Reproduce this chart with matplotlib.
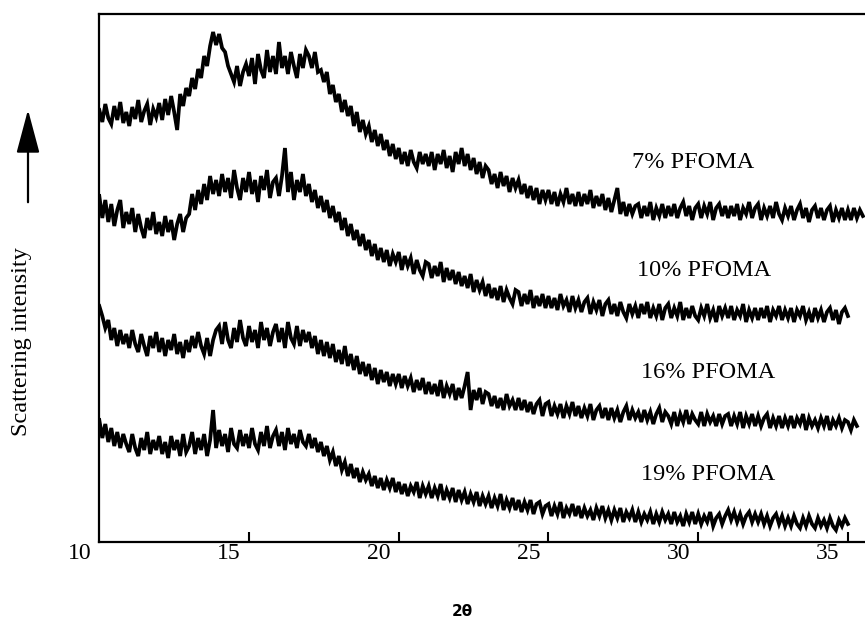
import numpy as np
import matplotlib.pyplot as plt
from matplotlib.patches import FancyArrowPatch
from matplotlib.transforms import ScaledTranslation

# 2-theta grid, 0.1 degree steps
step = 0.1

# scattering intensity (arbitrary units, curves stacked)
pfoma_7 = [
    432, 420, 438, 424, 418, 436, 422, 440, 419, 430,
    416, 435, 423, 442, 420, 431, 438, 417, 433, 425,
    439, 422, 443, 427, 446, 430, 412, 448, 436, 454,
    446, 464, 453, 473, 464, 486, 476, 496, 510, 497,
    508, 494, 490, 476, 468, 460, 476, 456, 470, 478,
    466, 484, 458, 488, 472, 464, 492, 470, 486, 468,
    500, 474, 486, 468, 490, 476, 464, 488, 474, 492,
    486, 474, 490, 470, 472, 460, 470, 448, 457, 440,
    448, 430, 442, 426, 436, 416, 430, 410, 422, 408,
    416, 400, 412, 396, 408, 392, 402, 386, 398, 383,
    394, 378, 390, 376, 392, 380, 374, 390, 378, 388,
    376, 390, 372, 388, 378, 392, 374, 386, 370, 390,
    378, 394, 376, 388, 372, 384, 368, 380, 364, 376,
    372, 358, 368, 354, 370, 356, 366, 350, 364, 354,
    362, 348, 358, 344, 356, 342, 354, 338, 352, 342,
    352, 338, 350, 336, 348, 340, 354, 338, 348, 336,
    350, 336, 348, 338, 352, 334, 346, 336, 348, 332,
    344, 330, 342, 354, 328, 340, 326, 338, 328, 336,
    338, 324, 336, 326, 340, 322, 334, 326, 338, 324,
    336, 326, 338, 324, 334, 340, 326, 336, 322, 334,
    338, 324, 336, 328, 340, 322, 334, 338, 326, 336,
    324, 336, 326, 338, 322, 334, 328, 340, 324, 334,
    338, 322, 334, 326, 336, 324, 340, 328, 322, 334,
    326, 336, 322, 332, 338, 324, 334, 320, 332, 336,
    324, 334, 322, 332, 336, 320, 332, 324, 334, 322,
    332, 322, 334, 324, 332, 326,
]

pfoma_10 = [
    346, 324, 342, 320, 338, 316, 332, 342, 314, 330,
    318, 334, 310, 328, 314, 304, 324, 312, 330, 308,
    320, 306, 326, 310, 322, 302, 318, 328, 310, 324,
    328, 348, 332, 352, 338, 358, 342, 366, 348, 362,
    346, 368, 350, 364, 344, 372, 354, 342, 364, 350,
    370, 348, 362, 340, 366, 352, 372, 344, 360, 364,
    346, 366, 394, 350, 370, 342, 362, 350, 368, 346,
    358, 340, 352, 334, 346, 330, 342, 324, 336, 320,
    330, 312, 324, 306, 318, 302, 312, 296, 308, 292,
    302, 286, 298, 282, 294, 280, 292, 276, 288, 280,
    290, 272, 286, 276, 284, 268, 282, 272, 266, 280,
    278, 264, 276, 266, 280, 260, 274, 262, 272, 258,
    270, 256, 266, 254, 268, 250, 262, 252, 260, 246,
    258, 244, 254, 242, 256, 240, 252, 244, 238, 252,
    250, 236, 248, 238, 252, 234, 246, 236, 248, 234,
    246, 234, 244, 232, 248, 236, 242, 230, 246, 234,
    242, 230, 240, 244, 228, 240, 232, 242, 226, 238,
    242, 228, 238, 226, 240, 230, 224, 238, 228, 236,
    224, 238, 228, 240, 224, 234, 226, 238, 222, 234,
    238, 224, 234, 226, 240, 222, 234, 224, 236, 226,
    222, 234, 226, 238, 224, 232, 220, 236, 226, 234,
    224, 236, 222, 232, 226, 238, 220, 232, 224, 234,
    222, 234, 224, 236, 220, 232, 226, 236, 222, 232,
    224, 234, 220, 232, 226, 236, 222, 230, 220, 234,
    224, 232, 220, 230, 234, 222, 232, 218, 230, 234,
    226,
]

pfoma_16 = [
    236, 226, 214, 222, 202, 214, 196, 212, 198, 208,
    194, 212, 198, 190, 208, 196, 186, 206, 194, 210,
    190, 204, 186, 202, 192, 208, 188, 200, 184, 202,
    190, 206, 194, 210, 196, 188, 204, 186, 202, 212,
    216, 198, 220, 202, 194, 214, 200, 222, 204, 196,
    216, 200, 212, 194, 220, 202, 214, 196, 210, 218,
    200, 214, 194, 220, 204, 198, 216, 196, 212, 200,
    210, 194, 206, 188, 202, 186, 200, 184, 198, 180,
    192, 178, 196, 176, 188, 172, 186, 168, 180, 166,
    178, 162, 174, 158, 172, 160, 170, 156, 168, 158,
    168, 154, 166, 156, 164, 150, 162, 152, 164, 148,
    160, 148, 158, 146, 162, 144, 156, 148, 158, 142,
    154, 144, 156, 170, 132, 152, 142, 154, 138, 150,
    148, 136, 146, 134, 144, 132, 148, 136, 142, 132,
    144, 132, 142, 130, 140, 128, 138, 142, 126, 138,
    140, 126, 136, 128, 138, 124, 136, 128, 140, 126,
    136, 124, 134, 126, 138, 122, 132, 136, 124, 134,
    122, 134, 124, 132, 120, 130, 136, 122, 132, 124,
    130, 120, 132, 122, 130, 118, 128, 134, 120, 130,
    126, 118, 130, 116, 128, 120, 132, 118, 128, 122,
    118, 130, 116, 128, 120, 126, 116, 128, 118, 126,
    128, 116, 126, 118, 130, 114, 126, 118, 128, 116,
    126, 116, 124, 128, 114, 124, 116, 126, 114, 124,
    116, 126, 114, 124, 118, 128, 112, 124, 116, 122,
    114, 124, 116, 126, 112, 122, 116, 124, 114, 122,
    120, 112, 122, 116,
]

pfoma_19 = [
    122, 104, 118, 100, 114, 96, 110, 94, 108, 98,
    90, 108, 94, 86, 104, 92, 110, 88, 102, 92,
    106, 88, 100, 84, 106, 92, 102, 86, 108, 90,
    96, 110, 88, 104, 92, 108, 86, 102, 132, 94,
    112, 96, 108, 90, 114, 98, 94, 112, 96, 108,
    94, 114, 98, 92, 110, 96, 116, 94, 106, 112,
    96, 110, 92, 114, 98, 108, 94, 112, 100, 96,
    108, 94, 104, 90, 100, 86, 96, 82, 90, 76,
    86, 72, 80, 66, 78, 64, 74, 60, 70, 62,
    68, 56, 66, 54, 64, 52, 62, 54, 64, 50,
    60, 48, 58, 46, 56, 50, 60, 44, 56, 48,
    56, 44, 54, 46, 58, 42, 52, 44, 54, 40,
    52, 42, 50, 38, 48, 40, 50, 36, 46, 38,
    46, 34, 44, 36, 48, 32, 42, 34, 44, 32,
    42, 30, 40, 32, 42, 28, 38, 40, 28, 36,
    38, 26, 36, 28, 40, 24, 34, 28, 38, 26,
    36, 24, 34, 26, 32, 22, 34, 26, 36, 24,
    32, 22, 32, 24, 34, 20, 30, 24, 32, 20,
    30, 20, 28, 22, 30, 18, 28, 20, 30, 22,
    28, 18, 30, 20, 26, 16, 28, 20, 30, 18,
    28, 18, 26, 20, 30, 16, 24, 28, 18, 26,
    32, 22, 30, 20, 28, 18, 26, 30, 20, 28,
    20, 28, 18, 26, 16, 24, 28, 18, 26, 16,
    24, 16, 26, 18, 14, 24, 16, 26, 18, 14,
    24, 16, 22, 14, 24, 16, 12, 22, 16, 24,
    18,
]

curve_labels = ["7% PFOMA", "10% PFOMA", "16% PFOMA", "19% PFOMA"]
xticks = [10, 15, 20, 25, 30, 35]

serif = "Liberation Serif"

fig = plt.figure(figsize=(8.65, 6.28), dpi=100)
ax = fig.add_axes([0.1148, 0.1369, 0.8852, 0.8408])

for series in [pfoma_7, pfoma_10, pfoma_16, pfoma_19]:
    tt = 10 + step * np.arange(len(series))
    ax.plot(tt, series, color="black", lw=2.7, solid_joinstyle="miter")

ax.set_xlim(10, 35.57)
ax.set_ylim(0, 528)

for s in ["left", "bottom", "top"]:
    ax.spines[s].set_linewidth(1.6)
ax.spines["right"].set_visible(False)

ax.set_yticks([])
ax.set_xticks(xticks)
ax.set_xticklabels([str(t) for t in xticks], family=serif, fontsize=17)
ax.tick_params(axis="x", direction="in", length=7, width=1.5, pad=1)
shift = ScaledTranslation(-0.2, 0, fig.dpi_scale_trans)
for lab in ax.get_xticklabels():
    lab.set_transform(lab.get_transform() + shift)
ax.xaxis.get_major_ticks()[0].tick1line.set_visible(False)

# curve labels
ax.text(27.79, 380, curve_labels[0], family=serif, fontsize=17.5, va="center")
ax.text(27.96, 272, curve_labels[1], family=serif, fontsize=17.5, va="center")
ax.text(28.09, 170, curve_labels[2], family=serif, fontsize=17.5, va="center")
ax.text(28.09, 68, curve_labels[3], family=serif, fontsize=17.5, va="center")

# axis titles
fig.text(462 / 865, 1 - 611 / 628, "2θ", fontsize=11, fontweight="bold",
         ha="center", va="center", family="DejaVu Sans")
fig.text(22 / 865, 1 - 342 / 628, "Scattering intensity", rotation=90,
         family=serif, fontsize=17.5, ha="center", va="center")

arrow = FancyArrowPatch((28 / 865, 1 - 205 / 628), (28 / 865, 1 - 107 / 628),
                        transform=fig.transFigure,
                        arrowstyle="-|>,head_length=27,head_width=7.2",
                        mutation_scale=1, lw=1.6, color="black")
fig.add_artist(arrow)

fig.savefig("out.png", dpi=100)
